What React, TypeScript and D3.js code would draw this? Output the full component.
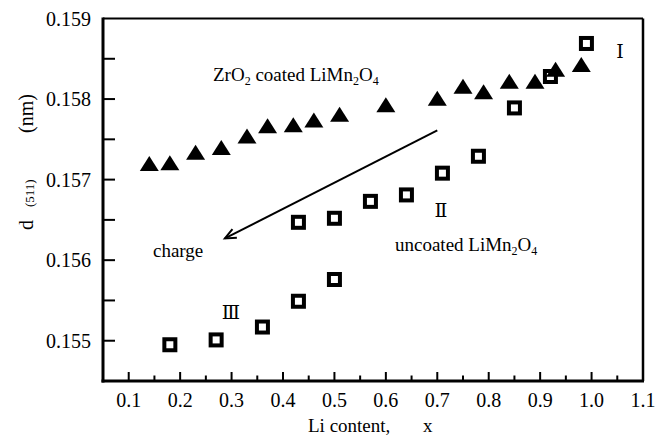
import React from 'react';
import * as d3 from 'd3';

// ZrO2 coated LiMn2O4 (filled triangles)
const coatedX = [0.14, 0.18, 0.23, 0.28, 0.33, 0.37, 0.42, 0.46, 0.51, 0.60, 0.70, 0.75, 0.79, 0.84, 0.89, 0.93, 0.98];
const coatedD = [0.15720, 0.15721, 0.15734, 0.15740, 0.15754, 0.15767, 0.15768, 0.15774, 0.15781, 0.15793, 0.15801, 0.15816, 0.15809, 0.15822, 0.15822, 0.15837, 0.15843];

// uncoated LiMn2O4 (open squares)
const uncoatedX = [0.18, 0.27, 0.36, 0.43, 0.50, 0.43, 0.50, 0.57, 0.64, 0.71, 0.78, 0.85, 0.92, 0.99];
const uncoatedD = [0.15495, 0.15501, 0.15517, 0.15549, 0.15576, 0.15647, 0.15652, 0.15673, 0.15681, 0.15708, 0.15729, 0.15789, 0.15828, 0.15869];

const xTicks = [0.1, 0.2, 0.3, 0.4, 0.5, 0.6, 0.7, 0.8, 0.9, 1.0];
const xMinorTicks = [0.15, 0.25, 0.35, 0.45, 0.55, 0.65, 0.75, 0.85, 0.95, 1.05];
const xLabels = ['0.1', '0.2', '0.3', '0.4', '0.5', '0.6', '0.7', '0.8', '0.9', '1.0', '1.1'];
const xLabelValues = [0.1, 0.2, 0.3, 0.4, 0.5, 0.6, 0.7, 0.8, 0.9, 1.0, 1.1];

const yTicks = [0.155, 0.156, 0.157, 0.158];
const yMinorTicks = [0.1555, 0.1565, 0.1575, 0.1585];
const yLabels = ['0.155', '0.156', '0.157', '0.158', '0.159'];
const yLabelValues = [0.155, 0.156, 0.157, 0.158, 0.159];

// charge arrow, in data units (from -> to)
const arrowFrom = [0.70, 0.15761];
const arrowTo = [0.287, 0.15627];

const W = 658;
const H = 444;
const font = '"Liberation Serif", "Times New Roman", serif';
const romanFont = '"DejaVu Serif", "Liberation Serif", serif';

export default function App() {
  const x = d3.scaleLinear().domain([0.05, 1.1]).range([103, 643]);
  const y = d3.scaleLinear().domain([0.1545, 0.159]).range([381, 18.5]);
  const [x0, x1] = x.range();
  const [y0, y1] = y.range();

  const tri = (cx: number, cy: number) =>
    `M${cx - 9.5},${cy + 7.5}L${cx + 9.5},${cy + 7.5}L${cx},${cy - 7.5}Z`;

  // arrow head
  const ax1 = x(arrowFrom[0]), ay1 = y(arrowFrom[1]);
  const ax2 = x(arrowTo[0]), ay2 = y(arrowTo[1]);
  const ang = Math.atan2(ay1 - ay2, ax1 - ax2);
  const headLen = 12;
  const spread = 0.42;
  const head = `M${ax2 + headLen * Math.cos(ang - spread)},${ay2 + headLen * Math.sin(ang - spread)}L${ax2},${ay2}L${ax2 + headLen * Math.cos(ang + spread)},${ay2 + headLen * Math.sin(ang + spread)}`;

  return (
    <svg width={W} height={H} style={{ position: 'absolute', left: 0, top: 0, background: '#fff' }} fontFamily={font}>
      <rect width={W} height={H} fill="#fff" />

      {/* frame */}
      <line x1={x0} x2={x1} y1={y1} y2={y1} stroke="#000" strokeWidth={2} />
      <line x1={x1} x2={x1} y1={y1} y2={y0} stroke="#000" strokeWidth={2.5} />
      <line x1={x0} x2={x0} y1={y1 - 1} y2={y0 + 1.5} stroke="#000" strokeWidth={3} />
      <line x1={x0 - 1.5} x2={x1 + 1} y1={y0} y2={y0} stroke="#000" strokeWidth={3} />

      {/* x ticks (inward) */}
      {xTicks.map((t, i) => (
        <line key={'xt' + i} x1={x(t)} x2={x(t)} y1={y0} y2={y0 - 9} stroke="#000" strokeWidth={2} />
      ))}
      {xMinorTicks.map((t, i) => (
        <line key={'xm' + i} x1={x(t)} x2={x(t)} y1={y0} y2={y0 - 5.5} stroke="#000" strokeWidth={2} />
      ))}
      {xLabelValues.map((t, i) => (
        <text key={'xl' + i} x={x(t)} y={407} fontSize={20} textAnchor="middle" fill="#000">
          {xLabels[i]}
        </text>
      ))}

      {/* y ticks (inward) */}
      {yTicks.concat(yMinorTicks).map((t, i) => (
        <line key={'yt' + i} x1={x0} x2={x0 + 12} y1={y(t)} y2={y(t)} stroke="#000" strokeWidth={2} />
      ))}
      {yLabelValues.map((t, i) => (
        <text key={'yl' + i} x={91} y={y(t)} dy="0.35em" fontSize={20} textAnchor="end" fill="#000">
          {yLabels[i]}
        </text>
      ))}

      {/* axis titles */}
      <text x={308} y={432} fontSize={19} fill="#000">
        Li content,
        <tspan x={423}>x</tspan>
      </text>
      <text transform="translate(33,230) rotate(-90)" fontSize={20} fill="#000">
        <tspan x={0}>d</tspan>
        <tspan x={23} fontSize={13} dy={1}>(511)</tspan>
        <tspan x={97} dy={-1}>(nm)</tspan>
      </text>

      {/* uncoated squares */}
      {uncoatedX.map((v, i) => (
        <rect key={'sq' + i} x={x(v) - 5.5} y={y(uncoatedD[i]) - 5.5} width={11} height={11}
          fill="none" stroke="#000" strokeWidth={4} />
      ))}

      {/* coated triangles */}
      {coatedX.map((v, i) => (
        <path key={'tr' + i} d={tri(x(v), y(coatedD[i]))} fill="#000" />
      ))}

      {/* charge arrow */}
      <line x1={ax1} y1={ay1} x2={ax2} y2={ay2} stroke="#000" strokeWidth={2} />
      <path d={head} fill="none" stroke="#000" strokeWidth={2} />

      {/* annotations */}
      <text x={213} y={81} fontSize={19} fill="#000">
        ZrO<tspan fontSize={12} dy={4}>2</tspan>
        <tspan dy={-4}> coated LiMn</tspan>
        <tspan fontSize={12} dy={4}>2</tspan>
        <tspan dy={-4}>O</tspan>
        <tspan fontSize={12} dy={4}>4</tspan>
      </text>
      <text x={153} y={257} fontSize={19} fill="#000">charge</text>
      <text x={395} y={251} fontSize={19} fill="#000">
        uncoated LiMn<tspan fontSize={12} dy={4}>2</tspan>
        <tspan dy={-4}>O</tspan>
        <tspan fontSize={12} dy={4}>4</tspan>
      </text>
      <text x={620} y={58} fontSize={19} textAnchor="middle" fill="#000" fontFamily={romanFont}>Ⅰ</text>
      <text x={441} y={217} fontSize={19} textAnchor="middle" fill="#000" fontFamily={romanFont}>Ⅱ</text>
      <text x={231} y={319} fontSize={19} textAnchor="middle" fill="#000" fontFamily={romanFont}>Ⅲ</text>
    </svg>
  );
}
